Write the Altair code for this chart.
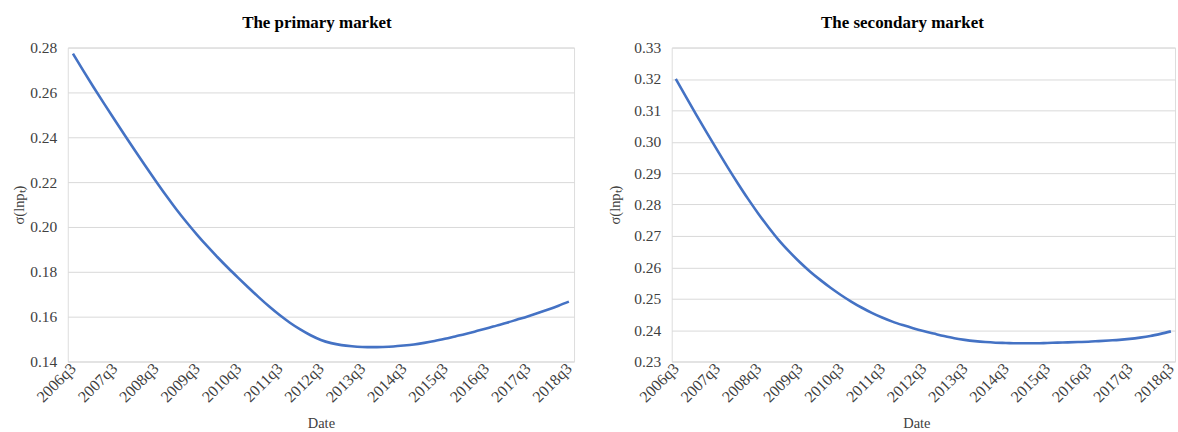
import altair as alt
import pandas as pd

quarters = [
    "2006q3", "2006q4", "2007q1", "2007q2", "2007q3", "2007q4", "2008q1", "2008q2",
    "2008q3", "2008q4", "2009q1", "2009q2", "2009q3", "2009q4", "2010q1", "2010q2",
    "2010q3", "2010q4", "2011q1", "2011q2", "2011q3", "2011q4", "2012q1", "2012q2",
    "2012q3", "2012q4", "2013q1", "2013q2", "2013q3", "2013q4", "2014q1", "2014q2",
    "2014q3", "2014q4", "2015q1", "2015q2", "2015q3", "2015q4", "2016q1", "2016q2",
    "2016q3", "2016q4", "2017q1", "2017q2", "2017q3", "2017q4", "2018q1", "2018q2",
    "2018q3",
]

tick_labels = ["2006q3", "2007q3", "2008q3", "2009q3", "2010q3", "2011q3", "2012q3",
               "2013q3", "2014q3", "2015q3", "2016q3", "2017q3", "2018q3"]

primary = [
    0.2773, 0.2697, 0.2623, 0.2551, 0.2480, 0.2410, 0.2341, 0.2273,
    0.2206, 0.2141, 0.2079, 0.2021, 0.1966, 0.1914, 0.1865, 0.1818,
    0.1773, 0.1729, 0.1686, 0.1645, 0.1607, 0.1573, 0.1543, 0.1517,
    0.1496, 0.1482, 0.1473, 0.1468, 0.1465, 0.1464, 0.1465, 0.1467,
    0.1471, 0.1476, 0.1483, 0.1491, 0.1501, 0.1512, 0.1523, 0.1535,
    0.1547, 0.1560, 0.1573, 0.1587, 0.1601, 0.1616, 0.1632, 0.1649,
    0.1667,
]

secondary = [
    0.3200, 0.3142, 0.3085, 0.3029, 0.2974, 0.2920, 0.2868, 0.2818,
    0.2771, 0.2727, 0.2686, 0.2650, 0.2617, 0.2587, 0.2560, 0.2535,
    0.2512, 0.2491, 0.2472, 0.2455, 0.2440, 0.2427, 0.2416, 0.2406,
    0.2397, 0.2389, 0.2381, 0.2374, 0.2369, 0.2365, 0.2362, 0.2360,
    0.2359, 0.2358, 0.2358, 0.2358, 0.2359, 0.2360, 0.2361, 0.2362,
    0.2363, 0.2365, 0.2367, 0.2369, 0.2372, 0.2376, 0.2381, 0.2388,
    0.2396,
]

primary_ticks = [0.14, 0.16, 0.18, 0.20, 0.22, 0.24, 0.26, 0.28]
secondary_ticks = [0.23, 0.24, 0.25, 0.26, 0.27, 0.28, 0.29, 0.30, 0.31, 0.32, 0.33]

FONT = "Liberation Serif"


def panel(values, title, ticks, width, title_dx, xtitle_dx, ytitle_pad, xpad):
    df = pd.DataFrame({"Date": quarters, "v": values})
    return (
        alt.Chart(
            df,
            title=alt.Title(
                title, font=FONT, fontSize=17, fontWeight="bold", color="#000000",
                anchor="middle", dx=title_dx, offset=9,
            ),
        )
        .mark_line(color="#4472C4", strokeWidth=2.6, interpolate="monotone")
        .encode(
            x=alt.X(
                "Date:N",
                sort=quarters,
                scale=alt.Scale(type="point", padding=xpad),
                axis=alt.Axis(
                    values=tick_labels, labelAngle=-45, labelAlign="right",
                    labelBaseline="middle", labelPadding=4, ticks=False,
                    domain=False, grid=False, labelFont=FONT, labelFontSize=16,
                    labelColor="#404040", title="Date", titleFont=FONT,
                    titleFontSize=14.5, titleFontWeight="normal", titleColor="#404040",
                    titlePadding=12, titleX=width / 2 + xtitle_dx,
                ),
            ),
            y=alt.Y(
                "v:Q",
                scale=alt.Scale(domain=[ticks[0], ticks[-1]], nice=False, zero=False),
                axis=alt.Axis(
                    values=ticks, format=".2f", ticks=False, domain=False,
                    gridColor="#d9d9d9", gridWidth=1, labelFont=FONT,
                    labelFontSize=15.5, labelColor="#404040", labelPadding=11,
                    title="σ(lnpₜ)", titleFont=FONT, titleFontSize=14.5,
                    titleFontWeight="normal", titleColor="#404040",
                    titlePadding=ytitle_pad,
                ),
            ),
        )
        .properties(width=width, height=315)
    )


left = panel(primary, "The primary market", primary_ticks, 508, -4, 0, 3, 0.5)
right = panel(secondary, "The secondary market", secondary_ticks, 505, -21, -7, 11, 0.4)

chart = (
    alt.hconcat(left, right, spacing=32)
    .properties(padding={"left": 11, "top": 12, "right": 0, "bottom": 0})
    .configure_view(stroke=None)
    .configure(background="#ffffff")
)

chart.save("out.html", embed_options={"renderer": "svg", "actions": False})
